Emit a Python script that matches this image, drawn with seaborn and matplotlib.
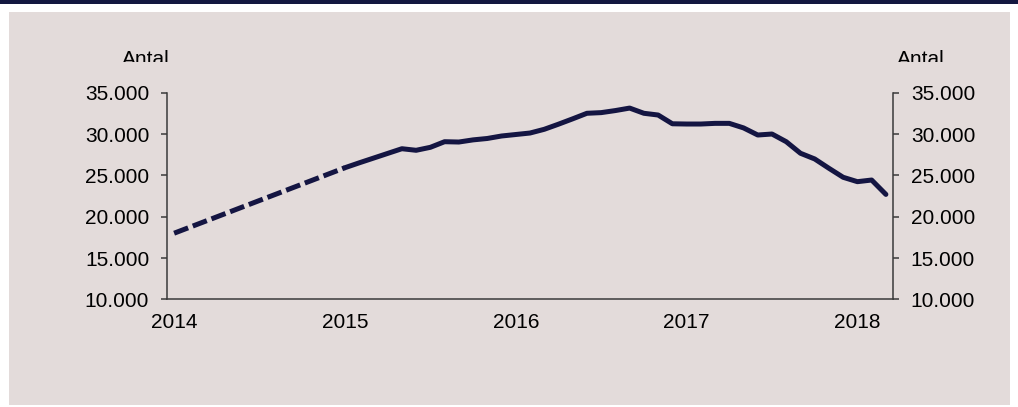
import matplotlib
matplotlib.use("Agg")
import matplotlib.pyplot as plt
from matplotlib.patches import Rectangle
from matplotlib.ticker import FuncFormatter, FixedLocator
import seaborn as sns
import pandas as pd
import numpy as np

# ---------------- data ----------------
months = pd.date_range("2014-01-01", periods=51, freq="MS")   # Jan 2014 .. Mar 2018
year_labels = ["2014", "2015", "2016", "2017", "2018"]
year_tick_idx = [0, 12, 24, 36, 48]
y_ticks = [10000, 15000, 20000, 25000, 30000, 35000]

# estimated (dashed) part: Jan 2014 -> Jan 2015
est_idx = [0, 12]
est_values = [18000, 25930]

# observed (solid) part: Jan 2015 -> Mar 2018
obs_values = [25930, 26520, 27090, 27660, 28230, 28040, 28400, 29080, 29040, 29300,
              29470, 29770, 29950, 30130, 30580, 31200, 31850, 32520, 32600, 32850,
              33150, 32520, 32310, 31250, 31220, 31220, 31300, 31300, 30750, 29890,
              30010, 29080, 27680, 26990, 25860, 24770, 24240, 24440, 22700]
obs_idx = list(range(12, 12 + len(obs_values)))

# ---------------- style ----------------
sns.set_style("ticks")
plt.rcParams["font.family"] = ["Liberation Sans", "DejaVu Sans"]
plt.rcParams["font.size"] = 15

W, H = 1018, 407
line_col = "#141542"
band_col = "#131740"
panel_col = "#e3dbda"
axis_col = "#3a3a3a"

fig = plt.figure(figsize=(W / 100, H / 100), dpi=100)
fig.patch.set_facecolor("white")

# background panel and top band
fig.patches.append(Rectangle((9 / W, (H - 405) / H), (1010 - 9) / W, (405 - 12) / H,
                             transform=fig.transFigure, facecolor=panel_col,
                             edgecolor="none", zorder=-5))
fig.patches.append(Rectangle((0, (H - 4) / H), 1, 4 / H, transform=fig.transFigure,
                             facecolor=band_col, edgecolor="none", zorder=-5))

left_px, right_px, top_px, bottom_px = 167, 893, 92.8, 299.3
ax = fig.add_axes([left_px / W, (H - bottom_px) / H,
                   (right_px - left_px) / W, (bottom_px - top_px) / H])
ax.set_facecolor("none")
ax.set_zorder(1)

df_obs = pd.DataFrame({"idx": obs_idx, "value": obs_values})
df_est = pd.DataFrame({"idx": est_idx, "value": est_values})

sns.lineplot(data=df_est, x="idx", y="value", ax=ax, color=line_col, linewidth=3.6,
             linestyle=(0, (3, 1)), dash_capstyle="butt")
sns.lineplot(data=df_obs, x="idx", y="value", ax=ax, color=line_col, linewidth=3.6,
             solid_capstyle="round", solid_joinstyle="round")

ax.set_xlim(-0.5, len(months) - 0.5)
ax.set_ylim(10000, 35000)
ax.xaxis.set_major_locator(FixedLocator(year_tick_idx))
ax.set_xticklabels(year_labels)
ax.yaxis.set_major_locator(FixedLocator(y_ticks))
ax.yaxis.set_major_formatter(FuncFormatter(lambda v, p: f"{v:,.0f}".replace(",", ".")))
ax.set_xlabel("")
ax.set_ylabel("")

for s in ["left", "right", "bottom"]:
    ax.spines[s].set_visible(True)
    ax.spines[s].set_color(axis_col)
    ax.spines[s].set_linewidth(1.1)
ax.spines["top"].set_visible(False)

ax.tick_params(axis="y", which="both", left=True, right=True, labelleft=True,
               labelright=True, direction="out", length=4.3, width=1.1,
               color=axis_col, pad=8.5, labelsize=15, labelcolor="black")
ax.tick_params(axis="x", length=0, pad=10, labelsize=15, labelcolor="black")

# "Antal" labels, slightly clipped at the bottom as in the reference
clip = Rectangle((0, (H - 61.7) / H), 1, 61.7 / H, transform=fig.transFigure)
for xc in (146, 921):
    t = fig.text(xc / W, (H - 64.9) / H, "Antal", ha="center", va="baseline",
                 fontsize=15, color="black")
    t.set_clip_path(clip)

fig.savefig("out.png", dpi=100, facecolor="white")
